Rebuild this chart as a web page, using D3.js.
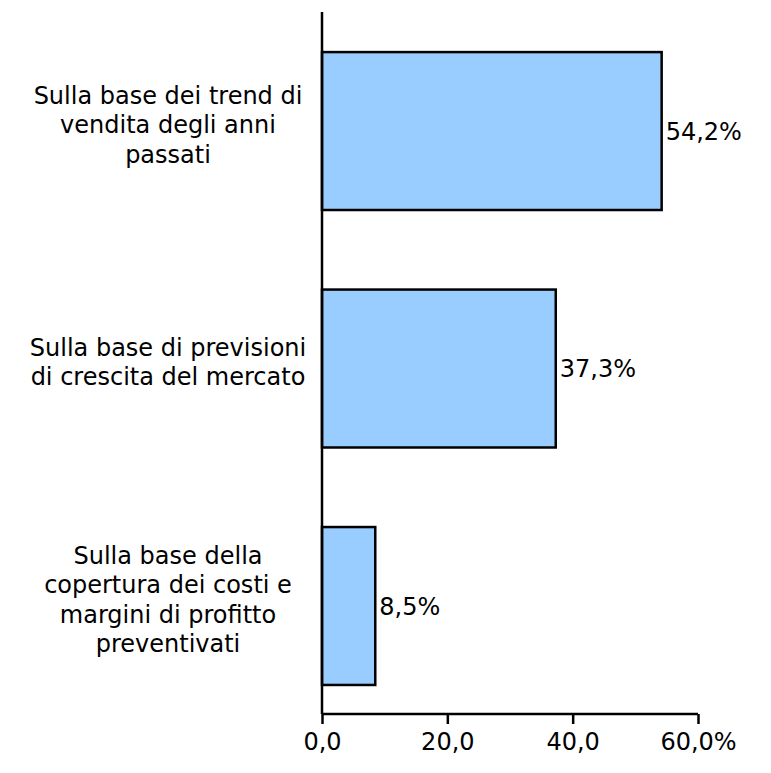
<!DOCTYPE html>
<html>
<head>
<meta charset="utf-8">
<script src="https://cdn.jsdelivr.net/npm/d3@7"></script>
<style>
  html, body { margin: 0; padding: 0; background: #fff; }
  svg text { font-family: "DejaVu Sans", Verdana, sans-serif; fill: #000; }
</style>
</head>
<body>
<svg id="chart" width="771" height="773"></svg>
<script>
// Metodi di definizione degli obiettivi di vendita (% risposte)
const categories = [
  ["Sulla base dei trend di", "vendita degli anni", "passati"],
  ["Sulla base di previsioni", "di crescita del mercato"],
  ["Sulla base della", "copertura dei costi e", "margini di profitto", "preventivati"]
];
const values = [54.2, 37.3, 8.5];
const tickValues = [0, 20, 40, 60];

const svg = d3.select("#chart");
const plotLeft = 322, plotRight = 698, plotTop = 12, plotBottom = 714;
const fontSize = 24;

const x = d3.scaleLinear().domain([0, 60]).range([plotLeft, plotRight]);
const y = d3.scaleBand().domain(d3.range(values.length)).range([plotTop, plotBottom])
  .paddingInner(0.335).paddingOuter(0.1455).align(0.58);

const fmt = v => v.toFixed(1).replace(".", ",");

// barre
svg.append("g").selectAll("rect").data(values).join("rect")
  .attr("x", x(0))
  .attr("y", (d, i) => y(i))
  .attr("width", d => x(d) - x(0))
  .attr("height", y.bandwidth())
  .attr("fill", "#99CCFF")
  .attr("stroke", "#000")
  .attr("stroke-width", 2.5);

// etichette dei valori
svg.append("g").selectAll("text").data(values).join("text")
  .attr("x", d => x(d) + 4)
  .attr("y", (d, i) => y(i) + y.bandwidth() / 2)
  .attr("dy", "0.36em")
  .attr("font-size", fontSize)
  .text(d => fmt(d) + "%");

// asse X
const xAxis = d3.axisBottom(x).tickValues(tickValues).tickSize(10).tickPadding(9)
  .tickFormat((d, i) => fmt(d) + (i === tickValues.length - 1 ? "%" : ""));
const gx = svg.append("g").attr("transform", `translate(0,${plotBottom})`).call(xAxis);
gx.select(".domain").attr("stroke", "#000").attr("stroke-width", 2.5)
  .attr("d", `M${plotLeft},0H${plotRight}`);
gx.selectAll(".tick line").attr("stroke", "#000").attr("stroke-width", 2.5);
gx.selectAll(".tick text").attr("font-size", fontSize).attr("font-family", "DejaVu Sans, Verdana, sans-serif");

// asse Y
svg.append("line")
  .attr("x1", plotLeft).attr("x2", plotLeft).attr("y1", plotTop).attr("y2", plotBottom)
  .attr("stroke", "#000").attr("stroke-width", 2.5);

// etichette delle categorie
const lineH = 29.5;
const cat = svg.append("g").selectAll("text").data(categories).join("text")
  .attr("text-anchor", "middle")
  .attr("font-size", fontSize)
  .attr("x", 168)
  .attr("y", (d, i) => y(i) + y.bandwidth() / 2 + 2 - (d.length - 1) * lineH / 2)
  .attr("dy", "0.36em");
cat.selectAll("tspan").data(d => d).join("tspan")
  .attr("x", 168)
  .attr("dy", (d, i) => i === 0 ? 0 : lineH)
  .text(d => d);
</script>
</body>
</html>
